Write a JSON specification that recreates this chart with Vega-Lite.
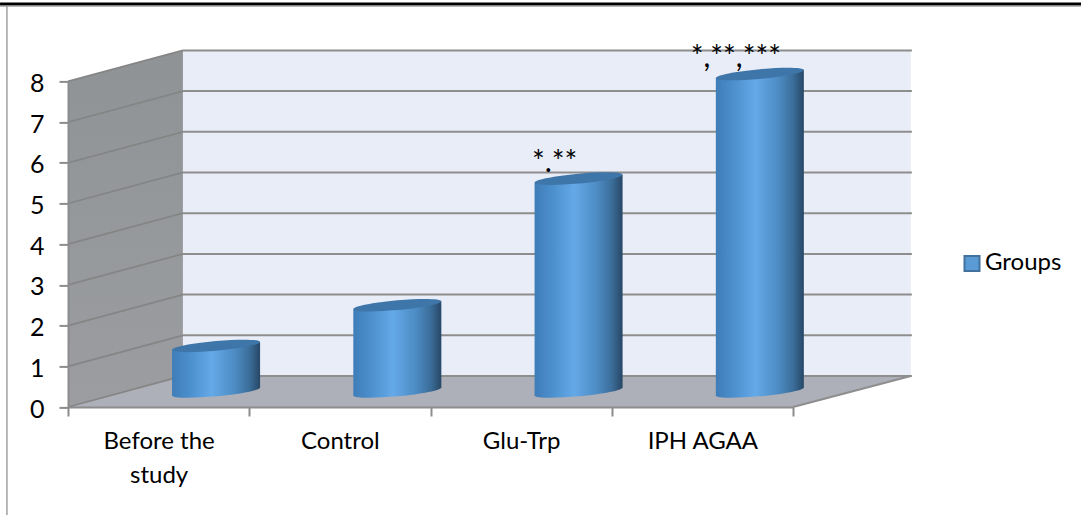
{
  "$schema": "https://vega.github.io/schema/vega-lite/v6.json",
  "width": 725,
  "height": 325.6,
  "padding": {"left": 68, "top": 81.4, "right": 288, "bottom": 108},
  "autosize": {"type": "none"},
  "background": "white",
  "config": {"view": {"stroke": null}, "font": "Lato"},
  "datasets": {
    "levels": [{"level": 0}, {"level": 1}, {"level": 2}, {"level": 3}, {"level": 4}, {"level": 5}, {"level": 6}, {"level": 7}, {"level": 8}],
    "depths": [{"depth": 0}, {"depth": 1}],
    "one": [{"part": "frame"}],
    "groups": [
      {"group": "Before the study", "slot": 0.5, "value": 1.12, "note": ""},
      {"group": "Control", "slot": 1.5, "value": 2.12, "note": ""},
      {"group": "Glu-Trp", "slot": 2.5, "value": 5.23, "note": "*.**"},
      {"group": "IPH AGAA", "slot": 3.5, "value": 7.8, "note": "*,**,***"}
    ]
  },
  "layer": [
    {
      "data": {"name": "one"},
      "mark": {"type": "rect", "fill": "#e9edf8", "clip": false},
      "encoding": {
        "x": {
          "datum": 0.634,
          "type": "quantitative",
          "title": null,
          "scale": {"domain": [0, 4], "nice": false, "zero": false},
          "axis": {
            "orient": "bottom",
            "values": [0, 0.5, 1, 1.5, 2, 2.5, 3, 3.5, 4],
            "grid": false,
            "domainColor": "#8c8c8c",
            "domainWidth": 2,
            "tickColor": "#8c8c8c",
            "tickWidth": 2,
            "tickSize": 9,
            "tickOpacity": {"condition": {"test": "datum.value % 1 === 0", "value": 1}, "value": 0},
            "labelExpr": "{'0.5': ['Before the', 'study'], '1.5': 'Control', '2.5': 'Glu-Trp', '3.5': 'IPH AGAA'}[datum.value] || ''",
            "labelFont": "Lato",
            "labelFontSize": 24,
            "labelColor": "#000000",
            "labelPadding": 13,
            "labelLineHeight": 34,
            "labelLimit": 0,
            "labelOverlap": false,
            "labelFlush": false,
            "labelBaseline": "top",
            "zindex": 1
          }
        },
        "x2": {"datum": 4.65},
        "y": {
          "datum": 0.762,
          "type": "quantitative",
          "title": null,
          "scale": {"domain": [0, 8], "nice": false, "zero": false},
          "axis": {
            "orient": "left",
            "values": [0, 1, 2, 3, 4, 5, 6, 7, 8],
            "grid": false,
            "domainColor": "#8c8c8c",
            "domainWidth": 2,
            "tickColor": "#8c8c8c",
            "tickWidth": 2,
            "tickSize": 9,
            "labelFont": "Lato",
            "labelFontSize": 25,
            "labelColor": "#000000",
            "labelPadding": 15,
            "labelOffset": 2,
            "zindex": 1
          }
        },
        "y2": {"datum": 8.762}
      }
    },
    {
      "data": {"name": "depths"},
      "transform": [
        {"calculate": "0.634 * datum.depth", "as": "left"},
        {"calculate": "4 + 0.65 * datum.depth", "as": "right"},
        {"calculate": "0.762 * datum.depth", "as": "floor"}
      ],
      "mark": {"type": "area", "orient": "horizontal", "fill": "#adb0b8", "clip": false},
      "encoding": {
        "y": {"field": "floor", "type": "quantitative", "title": null},
        "x": {"field": "left", "type": "quantitative", "title": null},
        "x2": {"field": "right"}
      }
    },
    {
      "data": {"name": "depths"},
      "transform": [
        {"calculate": "0.634 * datum.depth", "as": "left"},
        {"calculate": "0.762 * datum.depth", "as": "low"},
        {"calculate": "8 + 0.762 * datum.depth", "as": "high"}
      ],
      "mark": {
        "type": "area",
        "clip": false,
        "fill": {
          "gradient": "linear", "x1": 0, "y1": 0, "x2": 0, "y2": 1,
          "stops": [{"offset": 0, "color": "#909396"}, {"offset": 1, "color": "#9b9da0"}]
        }
      },
      "encoding": {
        "x": {"field": "left", "type": "quantitative", "title": null},
        "y": {"field": "high", "type": "quantitative", "title": null},
        "y2": {"field": "low"}
      }
    },
    {
      "data": {"name": "levels"},
      "transform": [{"calculate": "datum.level + 0.762", "as": "back"}],
      "mark": {"type": "rule", "stroke": "#8e8e8e", "strokeWidth": 2, "clip": false},
      "encoding": {
        "x": {"datum": 0.634, "type": "quantitative", "title": null},
        "x2": {"datum": 4.656},
        "y": {"field": "back", "type": "quantitative", "title": null}
      }
    },
    {
      "data": {"name": "levels"},
      "transform": [{"calculate": "datum.level + 0.762", "as": "back"}],
      "mark": {"type": "rule", "stroke": "#858585", "strokeWidth": 1.8, "clip": false},
      "encoding": {
        "x": {"datum": 0, "type": "quantitative", "title": null},
        "x2": {"datum": 0.634},
        "y": {"field": "level", "type": "quantitative", "title": null},
        "y2": {"field": "back"}
      }
    },
    {
      "data": {"name": "one"},
      "mark": {"type": "rule", "stroke": "#8e8e8e", "strokeWidth": 2, "clip": false},
      "encoding": {
        "x": {"datum": 4, "type": "quantitative", "title": null},
        "x2": {"datum": 4.65},
        "y": {"datum": 0, "type": "quantitative", "title": null},
        "y2": {"datum": 0.762}
      }
    },
    {
      "data": {"name": "one"},
      "mark": {"type": "rule", "stroke": "#000000", "strokeWidth": 3, "clip": false},
      "encoding": {
        "x": {"datum": -0.375, "type": "quantitative", "title": null},
        "x2": {"datum": 5.589},
        "y": {"datum": 9.9, "type": "quantitative", "title": null}
      }
    },
    {
      "data": {"name": "one"},
      "mark": {"type": "rule", "stroke": "#8a8a8a", "strokeWidth": 1, "clip": false},
      "encoding": {
        "x": {"datum": -0.375, "type": "quantitative", "title": null},
        "x2": {"datum": 5.589},
        "y": {"datum": 9.85, "type": "quantitative", "title": null}
      }
    },
    {
      "data": {"name": "one"},
      "mark": {"type": "rule", "stroke": "#a0a0a0", "strokeWidth": 1.5, "clip": false},
      "encoding": {
        "x": {"datum": -0.337, "type": "quantitative", "title": null},
        "y": {"datum": 9.85, "type": "quantitative", "title": null},
        "y2": {"datum": -2.66}
      }
    },
    {
      "data": {"name": "groups"},
      "transform": [
        {"calculate": "datum.slot + 0.317", "as": "cx"},
        {"calculate": "0.381", "as": "base"}
      ],
      "mark": {
        "type": "point",
        "filled": true,
        "opacity": 1,
        "clip": false,
        "shape": "M-1,0.09A1.004,0.11,-5.2,1,1,1,-0.09A1.004,0.11,-5.2,1,1,-1,0.09Z",
        "size": 7744,
        "fill": {
          "gradient": "linear", "x1": 0, "y1": 0, "x2": 1, "y2": 0,
          "stops": [
            {"offset": 0, "color": "#3f7db8"},
            {"offset": 0.2, "color": "#4c8fcd"},
            {"offset": 0.45, "color": "#64a9e8"},
            {"offset": 0.72, "color": "#4c8ac2"},
            {"offset": 0.88, "color": "#3b6d99"},
            {"offset": 1, "color": "#274766"}
          ]
        }
      },
      "encoding": {
        "x": {"field": "cx", "type": "quantitative", "title": null},
        "y": {"field": "base", "type": "quantitative", "title": null}
      }
    },
    {
      "data": {"name": "groups"},
      "transform": [
        {"calculate": "[-1, 1]", "as": "side"},
        {"flatten": ["side"]},
        {"calculate": "datum.slot + 0.317 + 0.2428 * datum.side", "as": "edge"},
        {"calculate": "0.381 + 0.097 * datum.side", "as": "bottom"},
        {"calculate": "datum.bottom + datum.value", "as": "top"}
      ],
      "mark": {
        "type": "area",
        "clip": false,
        "fill": {
          "gradient": "linear", "x1": 0, "y1": 0, "x2": 1, "y2": 0,
          "stops": [
            {"offset": 0, "color": "#3f7db8"},
            {"offset": 0.2, "color": "#4c8fcd"},
            {"offset": 0.45, "color": "#64a9e8"},
            {"offset": 0.72, "color": "#4c8ac2"},
            {"offset": 0.88, "color": "#3b6d99"},
            {"offset": 1, "color": "#274766"}
          ]
        }
      },
      "encoding": {
        "x": {"field": "edge", "type": "quantitative", "title": null},
        "y": {"field": "top", "type": "quantitative", "title": null},
        "y2": {"field": "bottom"},
        "detail": {"field": "group"}
      }
    },
    {
      "data": {"name": "groups"},
      "transform": [
        {"calculate": "datum.slot + 0.317", "as": "cx"},
        {"calculate": "0.381 + datum.value", "as": "top"}
      ],
      "mark": {
        "type": "point",
        "filled": true,
        "opacity": 1,
        "clip": false,
        "shape": "M-1,0.09A1.004,0.11,-5.2,1,1,1,-0.09A1.004,0.11,-5.2,1,1,-1,0.09Z",
        "size": 7744,
        "fill": "#3f76a9"
      },
      "encoding": {
        "x": {"field": "cx", "type": "quantitative", "title": null},
        "y": {"field": "top", "type": "quantitative", "title": null}
      }
    },
    {
      "data": {"name": "groups"},
      "transform": [
        {"filter": "datum.note !== ''"},
        {"calculate": "datum.slot + 0.317", "as": "cx"},
        {"calculate": "0.381 + datum.value", "as": "top"}
      ],
      "mark": {"type": "text", "font": "Lato", "fontSize": 30, "color": "#000000", "dx": -24, "dy": -7, "clip": false, "align": "center", "baseline": "alphabetic"},
      "encoding": {
        "x": {"field": "cx", "type": "quantitative", "title": null},
        "y": {"field": "top", "type": "quantitative", "title": null},
        "text": {"field": "note"}
      }
    },
    {
      "data": {"name": "one"},
      "mark": {"type": "point", "filled": true, "size": 0, "clip": false},
      "encoding": {
        "x": {"datum": 0, "type": "quantitative", "title": null},
        "y": {"datum": 0, "type": "quantitative", "title": null},
        "color": {
          "datum": "Groups",
          "type": "nominal",
          "scale": {"range": ["#5b9bd5"]},
          "legend": {
            "title": null,
            "orient": "none",
            "legendX": 892,
            "legendY": 170,
            "symbolType": "square",
            "symbolSize": 225,
            "symbolFillColor": "#5b9bd5",
            "symbolStrokeColor": "#41719c",
            "symbolStrokeWidth": 2,
            "symbolOpacity": 1,
            "labelFont": "Lato",
            "labelFontSize": 24,
            "labelColor": "#000000",
            "labelOffset": 1
          }
        }
      }
    }
  ]
}
